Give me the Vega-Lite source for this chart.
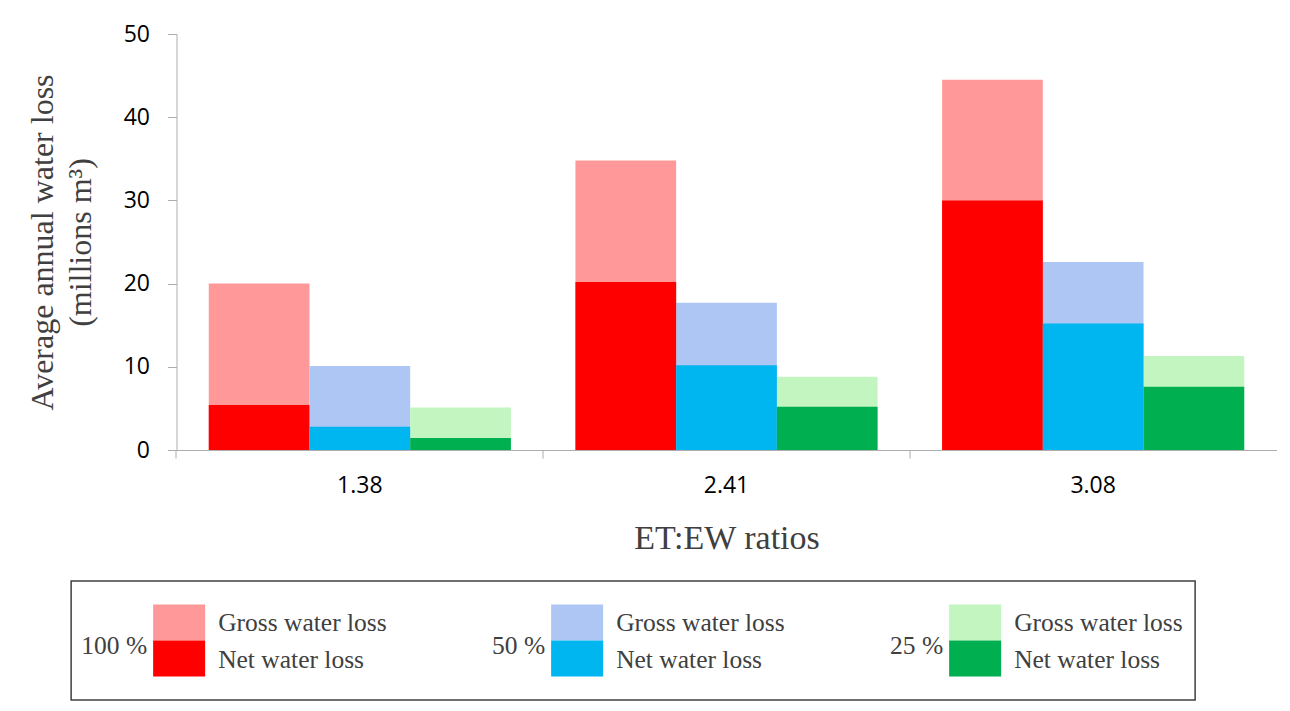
{
  "$schema": "https://vega.github.io/schema/vega-lite/v6.json",
  "description": "Average annual water loss by ET:EW ratio, gross vs net, at 100/50/25 %",
  "padding": {"left": 26, "top": 23, "right": 0, "bottom": 0},
  "spacing": 25,
  "center": true,
  "datasets": {
    "bars": [
      {"ratio": "1.38", "level": "100 %", "measure": "Gross water loss", "key": "100 % Gross", "value": 20.0},
      {"ratio": "1.38", "level": "50 %", "measure": "Gross water loss", "key": "50 % Gross", "value": 10.1},
      {"ratio": "1.38", "level": "25 %", "measure": "Gross water loss", "key": "25 % Gross", "value": 5.1},
      {"ratio": "2.41", "level": "100 %", "measure": "Gross water loss", "key": "100 % Gross", "value": 34.8},
      {"ratio": "2.41", "level": "50 %", "measure": "Gross water loss", "key": "50 % Gross", "value": 17.7},
      {"ratio": "2.41", "level": "25 %", "measure": "Gross water loss", "key": "25 % Gross", "value": 8.8},
      {"ratio": "3.08", "level": "100 %", "measure": "Gross water loss", "key": "100 % Gross", "value": 44.5},
      {"ratio": "3.08", "level": "50 %", "measure": "Gross water loss", "key": "50 % Gross", "value": 22.6},
      {"ratio": "3.08", "level": "25 %", "measure": "Gross water loss", "key": "25 % Gross", "value": 11.3},
      {"ratio": "1.38", "level": "100 %", "measure": "Net water loss", "key": "100 % Net", "value": 5.4},
      {"ratio": "1.38", "level": "50 %", "measure": "Net water loss", "key": "50 % Net", "value": 2.8},
      {"ratio": "1.38", "level": "25 %", "measure": "Net water loss", "key": "25 % Net", "value": 1.45},
      {"ratio": "2.41", "level": "100 %", "measure": "Net water loss", "key": "100 % Net", "value": 20.2},
      {"ratio": "2.41", "level": "50 %", "measure": "Net water loss", "key": "50 % Net", "value": 10.2},
      {"ratio": "2.41", "level": "25 %", "measure": "Net water loss", "key": "25 % Net", "value": 5.2},
      {"ratio": "3.08", "level": "100 %", "measure": "Net water loss", "key": "100 % Net", "value": 30.0},
      {"ratio": "3.08", "level": "50 %", "measure": "Net water loss", "key": "50 % Net", "value": 15.2},
      {"ratio": "3.08", "level": "25 %", "measure": "Net water loss", "key": "25 % Net", "value": 7.6}
    ],
    "legend": [
      {"level": "100 %", "measure": "Gross water loss", "key": "100 % Gross"},
      {"level": "100 %", "measure": "Net water loss", "key": "100 % Net"},
      {"level": "50 %", "measure": "Gross water loss", "key": "50 % Gross"},
      {"level": "50 %", "measure": "Net water loss", "key": "50 % Net"},
      {"level": "25 %", "measure": "Gross water loss", "key": "25 % Gross"},
      {"level": "25 %", "measure": "Net water loss", "key": "25 % Net"}
    ]
  },
  "vconcat": [
    {
      "width": 1100,
      "height": 416,
      "data": {"name": "bars"},
      "mark": {"type": "bar"},
      "encoding": {
        "x": {
          "field": "ratio",
          "type": "nominal",
          "title": "ET:EW ratios",
          "scale": {"paddingInner": 0.176, "paddingOuter": 0.088},
          "axis": {
            "labelAngle": 0,
            "bandPosition": -0.107,
            "labelPadding": 16,
            "titlePadding": 24,
            "titleFontSize": 34
          }
        },
        "xOffset": {
          "field": "level",
          "type": "nominal",
          "sort": ["100 %", "50 %", "25 %"],
          "scale": {"paddingInner": 0, "paddingOuter": 0}
        },
        "y": {
          "field": "value",
          "type": "quantitative",
          "stack": null,
          "scale": {"domain": [0, 50]},
          "axis": {
            "values": [0, 10, 20, 30, 40, 50],
            "tickSize": 9,
            "labelPadding": 18,
            "title": ["Average annual water loss", "(millions m³)"],
            "titleFontSize": 32,
            "titleLineHeight": 38,
            "titlePadding": 26
          }
        },
        "color": {
          "field": "key",
          "type": "nominal",
          "scale": {
            "domain": ["100 % Gross", "100 % Net", "50 % Gross", "50 % Net", "25 % Gross", "25 % Net"],
            "range": ["#FF9999", "#FF0000", "#AEC6F4", "#00B6F0", "#C3F5C0", "#00B050"]
          },
          "legend": null
        },
        "order": {"field": "measure", "type": "nominal", "sort": "ascending"}
      }
    },
    {
      "width": 1124,
      "height": 119,
      "view": {"stroke": "#404040", "strokeWidth": 1.5},
      "data": {"name": "legend"},
      "encoding": {
        "x": {
          "field": "level",
          "type": "nominal",
          "sort": ["100 %", "50 %", "25 %"],
          "scale": {"range": [0, 1194], "paddingInner": 0, "paddingOuter": 0},
          "axis": null
        }
      },
      "layer": [
        {
          "mark": {"type": "bar", "width": 52, "xOffset": -91},
          "encoding": {
            "y": {
              "field": "measure",
              "type": "nominal",
              "scale": {"paddingInner": 0, "paddingOuter": 0.65},
              "axis": {"orient": "right", "title": null, "labels": false, "ticks": false, "domainOpacity": 0, "offset": 186}
            },
            "color": {"field": "key", "type": "nominal", "legend": null}
          }
        },
        {
          "transform": [{"filter": "datum.measure === 'Gross water loss'"}],
          "mark": {"type": "text", "align": "right", "baseline": "middle", "xOffset": -123, "dy": 5, "font": "Liberation Serif", "fontSize": 25.5, "color": "#404040"},
          "encoding": {"text": {"field": "level"}}
        },
        {
          "mark": {"type": "text", "align": "left", "baseline": "middle", "xOffset": -52, "dy": 1, "font": "Liberation Serif", "fontSize": 25.5, "color": "#404040"},
          "encoding": {
            "y": {"field": "measure", "type": "nominal"},
            "text": {"field": "measure"}
          }
        }
      ]
    }
  ],
  "config": {
    "view": {"stroke": null},
    "axis": {
      "grid": false,
      "domainColor": "#ADADAD",
      "tickColor": "#ADADAD",
      "tickSize": 8,
      "labelFont": "Open Sans",
      "labelFontSize": 23,
      "labelColor": "#000000",
      "titleFont": "Liberation Serif",
      "titleFontWeight": "normal",
      "titleColor": "#404040"
    }
  }
}
